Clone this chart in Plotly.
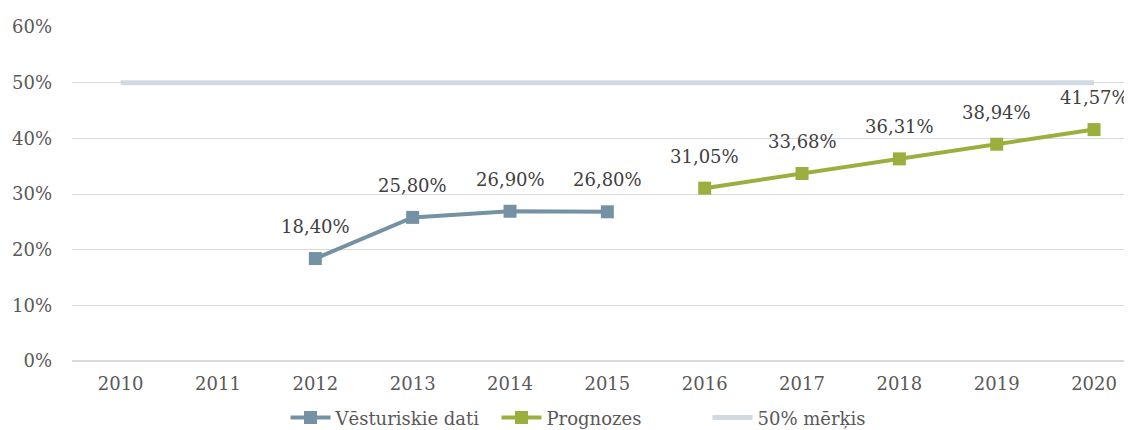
import plotly.graph_objects as go

years_hist = [2012, 2013, 2014, 2015]
hist_values = [18.40, 25.80, 26.90, 26.80]
years_fc = [2016, 2017, 2018, 2019, 2020]
fc_values = [31.05, 33.68, 36.31, 38.94, 41.57]
years_target = [2010, 2020]
target_values = [50, 50]
x_ticks = list(range(2010, 2021))
y_ticks = [0, 10, 20, 30, 40, 50, 60]

FONT = "DejaVu Serif"
C_HIST = "#7592A5"
C_FC = "#9BAF3F"
C_TGT = "#D1DAE2"

fig = go.Figure()
fig.add_trace(go.Scatter(x=years_target, y=target_values, mode="lines",
                         name="50% mērķis", line=dict(color=C_TGT, width=5),
                         legendrank=3))
fig.add_trace(go.Scatter(x=years_hist, y=hist_values, mode="lines+markers",
                         name="Vēsturiskie dati", line=dict(color=C_HIST, width=4),
                         marker=dict(symbol="square", size=13, color=C_HIST),
                         legendrank=1))
fig.add_trace(go.Scatter(x=years_fc, y=fc_values, mode="lines+markers",
                         name="Prognozes", line=dict(color=C_FC, width=4),
                         marker=dict(symbol="square", size=13, color=C_FC),
                         legendrank=2))

for xs, ys in ((years_hist, hist_values), (years_fc, fc_values)):
    for x, y in zip(xs, ys):
        fig.add_annotation(x=x, y=y, text=f"{y:.2f}%".replace(".", ","),
                           showarrow=False, yshift=32,
                           font=dict(family=FONT, size=18, color="#404040"))

fig.update_layout(
    width=1124, height=422,
    margin=dict(l=64, r=0, t=19, b=69, autoexpand=False),
    plot_bgcolor="white", paper_bgcolor="white",
    font=dict(family=FONT, size=18, color="#595959"),
    showlegend=True,
    legend=dict(orientation="h", x=0.5, xanchor="center", y=-0.17, yanchor="middle",
                font=dict(family=FONT, size=18, color="#595959"),
                itemwidth=40, tracegroupgap=0, entrywidth=156,
                entrywidthmode="pixels"),
    xaxis=dict(range=[2009.5, 2020.39], tickmode="array", tickvals=x_ticks,
               ticktext=[str(v) for v in x_ticks], showgrid=False, zeroline=False,
               showline=False, ticks="", automargin=False, ticklabelstandoff=10,
               tickfont=dict(family=FONT, size=18, color="#595959")),
    yaxis=dict(range=[0, 60], tickmode="array", tickvals=y_ticks,
               ticktext=[f"{v}%" for v in y_ticks], showgrid=True,
               gridcolor="#D9D9D9", gridwidth=1, zeroline=True,
               zerolinecolor="#D9D9D9", zerolinewidth=2, showline=False,
               ticks="", ticklen=0, automargin=False, ticklabelstandoff=19,
               tickfont=dict(family=FONT, size=18, color="#595959")),
)

fig.write_html("out.html")
